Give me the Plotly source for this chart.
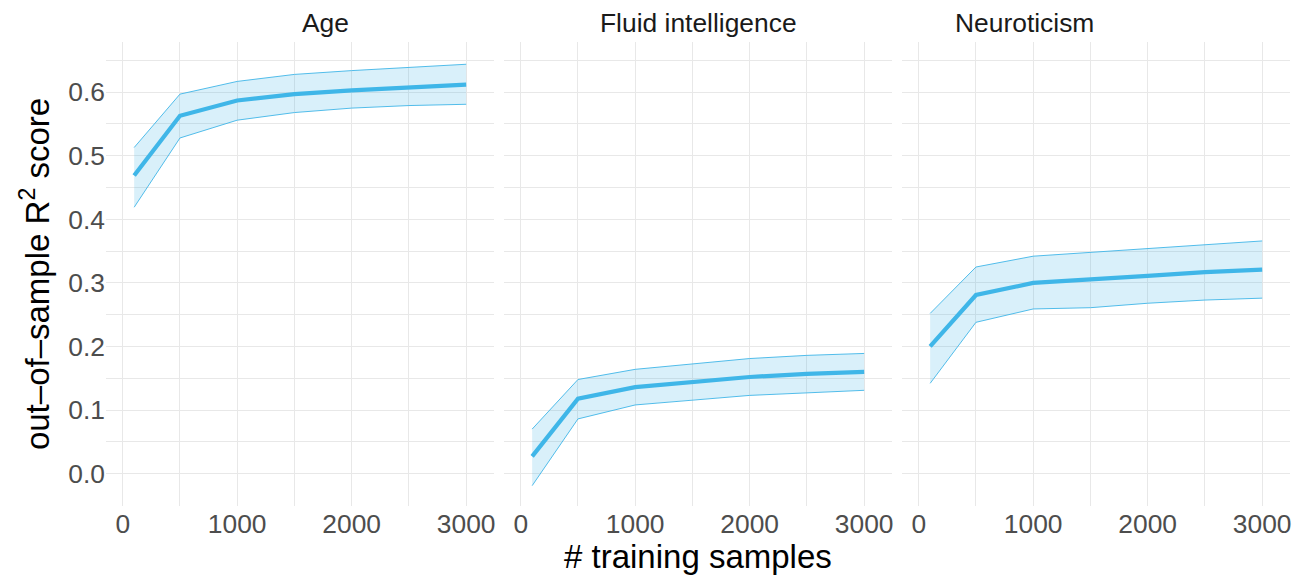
import plotly.graph_objects as go

n_train = [100, 500, 1000, 1500, 2000, 2500, 3000]
panels = ["Age", "Fluid intelligence", "Neuroticism"]

age_mean = [0.469, 0.563, 0.587, 0.597, 0.603, 0.608, 0.612]
age_upper = [0.513, 0.597, 0.617, 0.628, 0.634, 0.639, 0.644]
age_lower = [0.419, 0.528, 0.556, 0.568, 0.575, 0.579, 0.581]

fluid_mean = [0.027, 0.118, 0.136, 0.144, 0.152, 0.157, 0.160]
fluid_upper = [0.070, 0.148, 0.164, 0.173, 0.181, 0.186, 0.189]
fluid_lower = [-0.019, 0.086, 0.108, 0.116, 0.123, 0.127, 0.131]

neuro_mean = [0.200, 0.281, 0.300, 0.305, 0.311, 0.317, 0.321]
neuro_upper = [0.252, 0.325, 0.342, 0.348, 0.355, 0.361, 0.366]
neuro_lower = [0.142, 0.238, 0.259, 0.261, 0.268, 0.273, 0.276]

series = [
    (age_mean, age_upper, age_lower),
    (fluid_mean, fluid_upper, fluid_lower),
    (neuro_mean, neuro_upper, neuro_lower),
]

LINE = "#3fb6e8"
FILL = "rgba(63,182,232,0.2)"
GRID = "#e8e8e8"
FONT = "Liberation Sans"
TICK_SIZE = 26.4
STRIP_SIZE = 26.4
TITLE_SIZE = 33

fig = go.Figure()

W = 1184.0
pw = 388.0
gap = 10.0
domains = []
for i in range(3):
    a = i * (pw + gap) / W
    b = (i * (pw + gap) + pw) / W
    domains.append([a, min(b, 1.0)])

for i, (m, u, l) in enumerate(series):
    xa = "x" if i == 0 else f"x{i+1}"
    ya = "y" if i == 0 else f"y{i+1}"
    fig.add_trace(go.Scatter(x=n_train + n_train[::-1], y=u + l[::-1], fill="toself",
                             fillcolor=FILL, line=dict(width=0), mode="lines",
                             hoverinfo="skip", showlegend=False, xaxis=xa, yaxis=ya))
    fig.add_trace(go.Scatter(x=n_train, y=u, mode="lines", line=dict(color=LINE, width=0.9),
                             showlegend=False, xaxis=xa, yaxis=ya))
    fig.add_trace(go.Scatter(x=n_train, y=l, mode="lines", line=dict(color=LINE, width=0.9),
                             showlegend=False, xaxis=xa, yaxis=ya))
    fig.add_trace(go.Scatter(x=n_train, y=m, mode="lines", line=dict(color=LINE, width=4.2),
                             showlegend=False, xaxis=xa, yaxis=ya))

for i in range(3):
    suffix = "" if i == 0 else str(i + 1)
    fig.layout["xaxis" + suffix] = dict(
        domain=domains[i], range=[-146, 3243], anchor="y" + suffix,
        tickvals=[0, 1000, 2000, 3000], showgrid=True, gridcolor=GRID, gridwidth=1.2,
        minor=dict(tickvals=[500, 1500, 2500], showgrid=True, gridcolor=GRID, gridwidth=0.7),
        zeroline=False, showline=False, ticks="",
        tickfont=dict(family=FONT, size=TICK_SIZE, color="#4d4d4d"),
    )
    fig.layout["yaxis" + suffix] = dict(
        domain=[0, 1], range=[-0.051, 0.679], anchor="x" + suffix,
        tickvals=[0.0, 0.1, 0.2, 0.3, 0.4, 0.5, 0.6], tickformat=".1f",
        showticklabels=(i == 0), showgrid=True, gridcolor=GRID, gridwidth=1.2,
        minor=dict(tickvals=[-0.05, 0.05, 0.15, 0.25, 0.35, 0.45, 0.55, 0.65],
                   showgrid=True, gridcolor=GRID, gridwidth=0.7),
        zeroline=False, showline=False, ticks="",
        tickfont=dict(family=FONT, size=TICK_SIZE, color="#4d4d4d"),
    )

fig.layout.yaxis.title = dict(text="out\u2013of\u2013sample R<sup>2</sup> score",
                              font=dict(family=FONT, size=TITLE_SIZE, color="black"), standoff=8)

annotations = []
for i, name in enumerate(panels):
    annotations.append(dict(text=name, x=(domains[i][0] + domains[i][1]) / 2, y=1.0,
                            xref="paper", yref="paper", yanchor="middle", yshift=19,
                            showarrow=False, font=dict(family=FONT, size=STRIP_SIZE, color="#1a1a1a")))
annotations.append(dict(text="# training samples", x=0.5, y=0, xref="paper", yref="paper",
                        yanchor="middle", yshift=-50, showarrow=False,
                        font=dict(family=FONT, size=TITLE_SIZE, color="black")))
fig.update_layout(
    annotations=annotations,
    width=1304, height=575,
    margin=dict(l=106, r=14, t=42, b=69),
    plot_bgcolor="white", paper_bgcolor="white",
    font=dict(family=FONT),
)

fig.write_html("out.html", config={"displayModeBar": False})
with open("out.html", "r", encoding="utf-8") as f:
    html = f.read()
html = html.replace("<head>", "<head><style>html,body{margin:0;padding:0;overflow:hidden;}</style>", 1)
with open("out.html", "w", encoding="utf-8") as f:
    f.write(html)
